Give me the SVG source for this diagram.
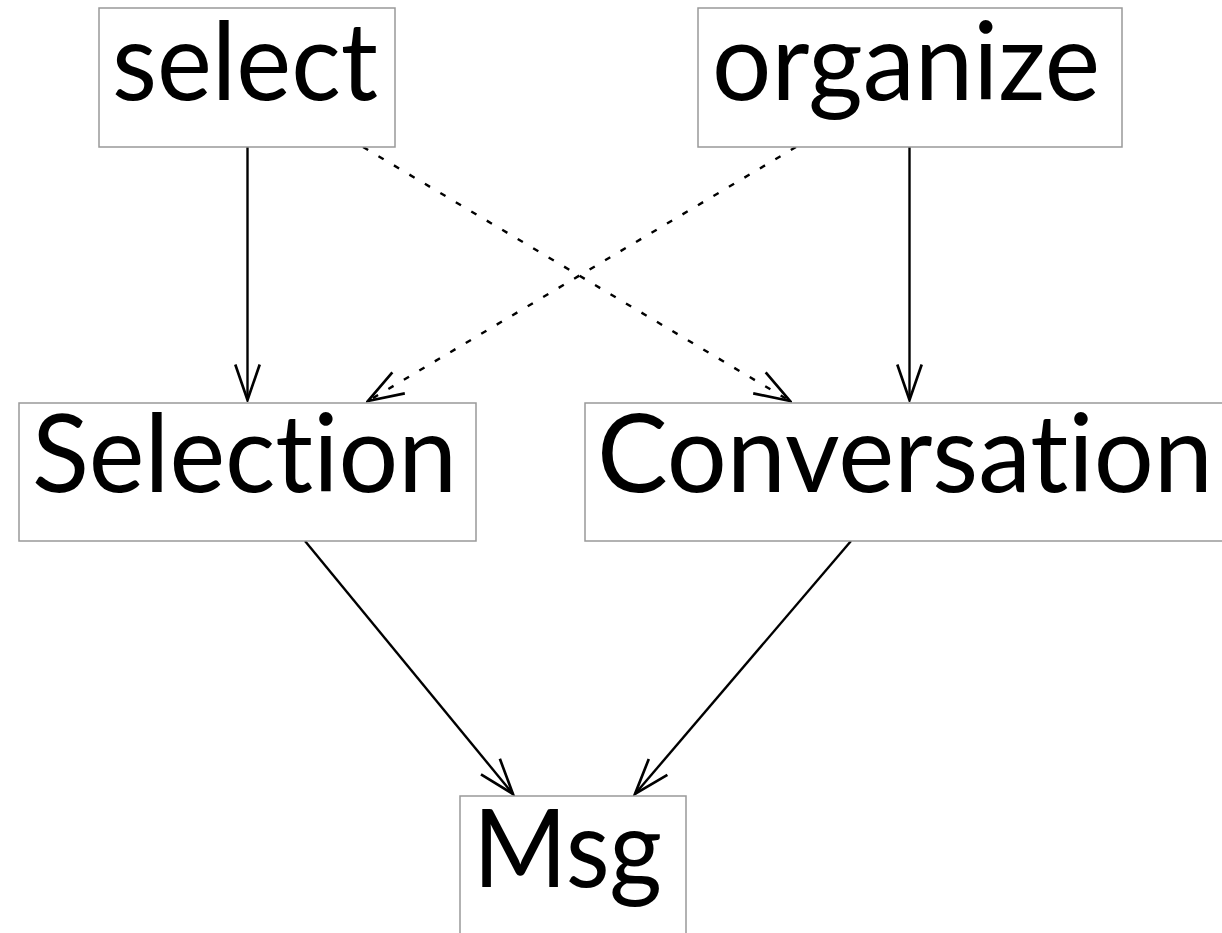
<svg xmlns="http://www.w3.org/2000/svg" width="1222" height="933" viewBox="0 0 1222 933">
<style>
.box{fill:#fff;stroke:#999;stroke-width:1.5}
.lbl{font-family:Lato,"Open Sans","Liberation Sans",sans-serif;font-size:109px;fill:#000;font-variant-ligatures:none;font-feature-settings:"liga" 0,"clig" 0}
.edge{fill:none;stroke:#000;stroke-width:2.4}
.dash{stroke-dasharray:6 12}
</style>
<defs>
<marker id="arr" markerUnits="userSpaceOnUse" markerWidth="40" markerHeight="30" viewBox="-34 -13 36 26" refX="0" refY="0" orient="auto">
<path d="M-32,-11 L0,0 L-32,11" fill="none" stroke="#000" stroke-width="2.4"/>
</marker>
</defs>
<rect width="1222" height="933" fill="#fff"/>
<g id="connectors">
<line class="edge" x1="247.5" y1="147" x2="247.5" y2="400" marker-end="url(#arr)"/>
<line class="edge" x1="909.5" y1="147" x2="909.5" y2="400" marker-end="url(#arr)"/>
<line class="edge dash" x1="363" y1="147" x2="790" y2="401" marker-end="url(#arr)"/>
<line class="edge dash" x1="796" y1="147" x2="368" y2="401" marker-end="url(#arr)"/>
<line class="edge" x1="305" y1="541" x2="513" y2="794" marker-end="url(#arr)"/>
<line class="edge" x1="851" y1="541" x2="635" y2="794" marker-end="url(#arr)"/>
</g>
<g id="select">
<rect class="box" x="99" y="8" width="296" height="139"/>
<text class="lbl" x="112" y="100" textLength="266" lengthAdjust="spacingAndGlyphs">select</text>
</g>
<g id="organize">
<rect class="box" x="698" y="8" width="424" height="139"/>
<text class="lbl" x="712" y="100" textLength="388" lengthAdjust="spacingAndGlyphs">organize</text>
</g>
<g id="Selection">
<rect class="box" x="19" y="403" width="457" height="138"/>
<text class="lbl" x="32" y="492" textLength="425" lengthAdjust="spacingAndGlyphs">Selection</text>
</g>
<g id="Conversation">
<rect class="box" x="585" y="403" width="660" height="138"/>
<text class="lbl" x="597" y="492" textLength="616" lengthAdjust="spacingAndGlyphs">Conversation</text>
</g>
<g id="Msg">
<rect class="box" x="460" y="796" width="226" height="140"/>
<text class="lbl" x="473" y="887" textLength="189" lengthAdjust="spacingAndGlyphs">Msg</text>
</g>
</svg>
